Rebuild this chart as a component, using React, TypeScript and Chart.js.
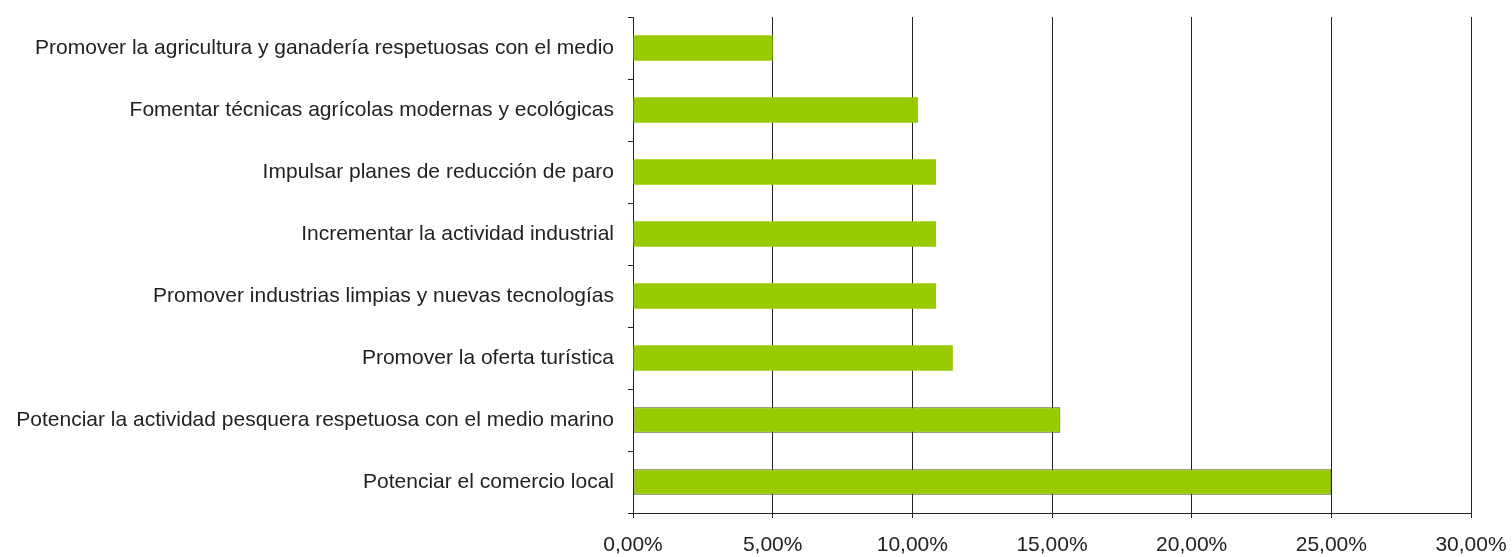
import React, { useEffect, useRef } from "react";
import { Chart, registerables } from "chart.js";

Chart.register(...registerables);

const categories: string[] = [
  "Promover la agricultura y ganadería respetuosas con el medio",
  "Fomentar técnicas agrícolas modernas y ecológicas",
  "Impulsar planes de reducción de paro",
  "Incrementar la actividad industrial",
  "Promover industrias limpias y nuevas tecnologías",
  "Promover la oferta turística",
  "Potenciar la actividad pesquera respetuosa con el medio marino",
  "Potenciar el comercio local",
];

const values: number[] = [5.0, 10.2, 10.85, 10.85, 10.85, 11.45, 15.3, 25.0];

const xTicks: number[] = [0, 5, 10, 15, 20, 25, 30];

const FONT = "'Liberation Sans', Arial, sans-serif";

export default function App() {
  const ref = useRef<HTMLCanvasElement | null>(null);

  useEffect(() => {
    if (!ref.current) return;
    const chart = new Chart(ref.current, {
      type: "bar",
      data: {
        labels: categories,
        datasets: [
          {
            data: values,
            backgroundColor: "#99cc00",
            borderColor: values.map((_, i) => (i >= 6 ? "#4a5e10" : "#99cc00")),
            borderWidth: values.map((_, i) => (i >= 6 ? 1 : 0)),
            borderSkipped: false,
            barPercentage: 0.41,
            categoryPercentage: 1,
          },
        ],
      },
      options: {
        indexAxis: "y",
        animation: false,
        responsive: false,
        maintainAspectRatio: false,
        layout: { padding: { top: 17, right: 41, left: 0, bottom: 0 } },
        plugins: { legend: { display: false }, tooltip: { enabled: false } },
        scales: {
          x: {
            min: 0,
            max: 30,
            afterBuildTicks: (scale: any) => {
              scale.ticks = xTicks.map((v) => ({ value: v }));
            },
            afterFit: (scale: any) => {
              scale.height = 44;
              scale.paddingLeft = 0;
              scale.paddingRight = 0;
            },
            ticks: {
              color: "#222",
              font: { family: FONT, size: 21 },
              padding: 15,
              callback: (v: any) => Number(v).toFixed(2).replace(".", ",") + "%",
            },
            grid: { color: "#222", lineWidth: 1, tickLength: 5, drawTicks: true },
            border: { color: "#222", width: 1 },
          },
          y: {
            afterFit: (scale: any) => {
              scale.width = 633;
              scale.paddingTop = 0;
              scale.paddingBottom = 0;
            },
            ticks: {
              color: "#222",
              font: { family: FONT, size: 21 },
              padding: 14,
            },
            grid: { drawOnChartArea: false, drawTicks: true, tickLength: 5, color: "#222", offset: true },
            border: { color: "#222", width: 1 },
          },
        },
      },
    });
    return () => chart.destroy();
  }, []);

  return (
    <div style={{ position: "absolute", left: 0, top: 0, width: 1512, height: 557, background: "#fff" }}>
      <canvas ref={ref} width={1512} height={557} style={{ width: 1512, height: 557 }} />
    </div>
  );
}
